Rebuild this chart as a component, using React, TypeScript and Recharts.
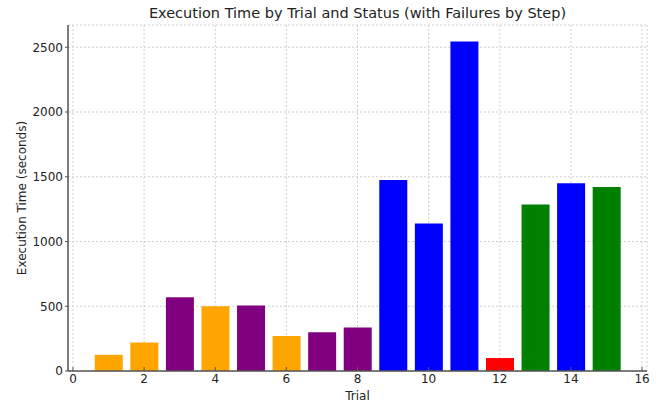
import React from "react";
import { Bar, BarChart, CartesianGrid, Cell, XAxis, YAxis } from "recharts";

// trial numbers, execution time per trial and the status colour of each bar
const trials = [1, 2, 3, 4, 5, 6, 7, 8, 9, 10, 11, 12, 13, 14, 15];
const execTimes = [125, 220, 570, 500, 505, 270, 300, 335, 1475, 1140, 2545, 100, 1285, 1450, 1420];
const barColors = [
  "#FFA500", "#FFA500", "#800080", "#FFA500", "#800080", "#FFA500", "#800080", "#800080",
  "#0000FF", "#0000FF", "#0000FF", "#FF0000", "#008000", "#0000FF", "#008000",
];
const xTicks = [0, 2, 4, 6, 8, 10, 12, 14, 16];
const yTicks = [0, 500, 1000, 1500, 2000, 2500];

const data = trials.map((t, i) => ({ trial: t, time: execTimes[i] }));

const FONT = "'DejaVu Sans', sans-serif";
const tickStyle = { fill: "#222", fontSize: 12, fontFamily: FONT };
const spine = { stroke: "#555", strokeWidth: 1.5 };

export default function App() {
  return (
    <div style={{ position: "relative", width: 660, height: 403, fontFamily: FONT }}>
      <style>{`body{margin:0}`}</style>
      <div
        style={{
          position: "absolute",
          left: 68,
          width: 579,
          top: 5,
          textAlign: "center",
          fontSize: 14.5,
          color: "#222",
        }}
      >
        Execution Time by Trial and Status (with Failures by Step)
      </div>
      <BarChart
        width={660}
        height={403}
        data={data}
        margin={{ top: 25, right: 13, bottom: 0, left: 20 }}
      >
        <CartesianGrid stroke="#d0d0d0" strokeDasharray="2 2" />
        <XAxis
          dataKey="trial"
          type="number"
          domain={[-0.14, 16.14]}
          ticks={xTicks}
          allowDataOverflow
          height={32}
          tick={tickStyle}
          axisLine={spine}
          tickLine={{ stroke: "#555" }}
          tickSize={-4}
          tickMargin={7}
          label={{ value: "Trial", position: "insideBottom", offset: 3, style: tickStyle }}
        />
        <YAxis
          type="number"
          domain={[0, 2672]}
          ticks={yTicks}
          allowDataOverflow
          width={48}
          tick={tickStyle}
          axisLine={spine}
          tickLine={{ stroke: "#555" }}
          tickSize={3}
          tickMargin={2}
          label={{
            value: "Execution Time (seconds)",
            angle: -90,
            position: "insideLeft",
            offset: 2,
            style: { ...tickStyle, textAnchor: "middle" },
          }}
        />
        <Bar dataKey="time" barSize={28} isAnimationActive={false}>
          {data.map((d, i) => (
            <Cell key={d.trial} fill={barColors[i]} />
          ))}
        </Bar>
      </BarChart>
    </div>
  );
}
